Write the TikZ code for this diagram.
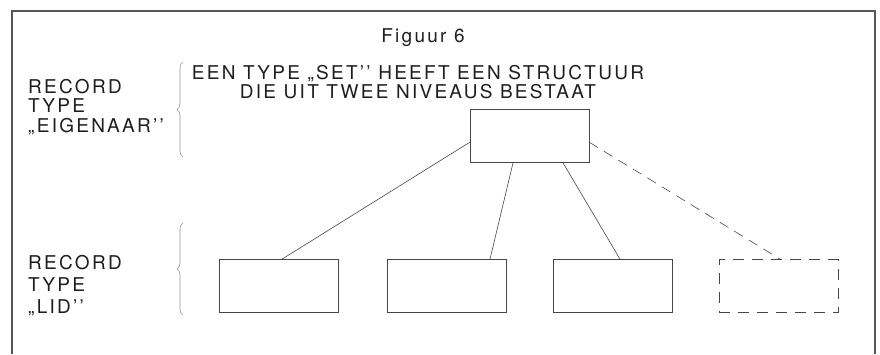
\documentclass[tikz,border=0pt]{standalone}
\usepackage{fontspec}
\setmainfont{TeX Gyre Heros}[LetterSpace=12]
\usetikzlibrary{decorations.pathreplacing}
\definecolor{frameline}{RGB}{85,85,85}
\definecolor{inkline}{RGB}{70,70,70}
\definecolor{inktext}{RGB}{30,30,30}
\definecolor{braceline}{RGB}{150,150,150}

\begin{document}
\begin{tikzpicture}[x=1pt, y=-1pt,
  rec/.style={draw=inkline, line width=0.7pt, minimum width=119pt,
              minimum height=53pt, inner sep=0pt},
  recopt/.style={rec, dash pattern=on 11pt off 8pt},
  lbl/.style={font=\fontsize{19}{19.5}\selectfont, text=inktext,
              inner sep=0pt, align=left},
  link/.style={draw=inkline, line width=0.6pt},
  brc/.style={draw=braceline, line width=0.6pt, decorate,
              decoration={brace, amplitude=6pt}}
]
\useasboundingbox (0,0) rectangle (880,354);

% frame, open at the bottom
\draw[frameline, line width=1.4pt] (12,354) -- (12,11) -- (875,11) -- (875,354);

% captions
\node[lbl, anchor=base] (fig) at (423,42) {Figuur 6};
\node[lbl, align=center, anchor=north] (kop) at (418,65)
  {EEN TYPE „SET’’ HEEFT EEN STRUCTUUR\\ DIE UIT TWEE NIVEAUS BESTAAT};
\node[lbl, anchor=north west] (eig) at (28,79)
  {RECORD\\ TYPE\\ „EIGENAAR’’};
\node[lbl, anchor=north west, font=\fontsize{19}{22}\selectfont] (lid) at (28,255)
  {RECORD\\ TYPE\\ „LID’’};

% braces
\draw[brc] (183,157) -- (183,62);
\draw[brc] (183,315) -- (183,223);

% owner record and member records
\node[rec] (own) at (529.5,136) {};
\node[rec] (lid1) at (279,286) {};
\node[rec] (lid2) at (447,286) {};
\node[rec] (lid3) at (613,286) {};
\node[recopt] (lid4) at (778.5,286) {};

% set links
\draw[link] (own.186) -- ([xshift=3pt]lid1.north);
\draw[link] ([xshift=-16.5pt]own.south) -- ([xshift=43pt]lid2.north);
\draw[link] ([xshift=33.5pt]own.south) -- ([xshift=7pt]lid3.north);
\draw[link, dash pattern=on 10pt off 7pt] (own.354) -- ([xshift=1.5pt]lid4.north);
\end{tikzpicture}
\end{document}
